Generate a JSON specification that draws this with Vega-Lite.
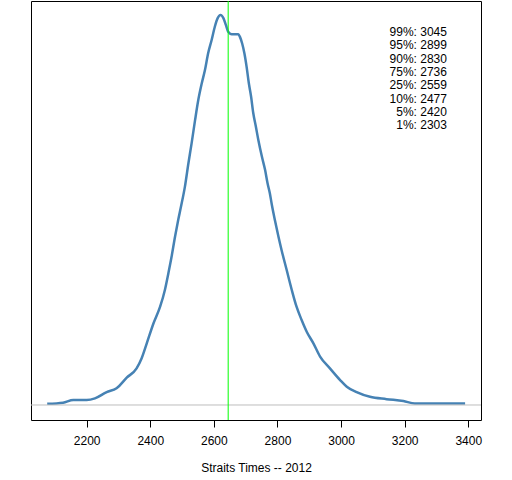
{
  "$schema": "https://vega.github.io/schema/vega-lite/v6.json",
  "description": "Density of Straits Times index values, 2012",
  "width": 450,
  "height": 419,
  "autosize": {"type": "none"},
  "padding": {"left": 31, "top": 1, "right": 31, "bottom": 60},
  "background": "white",
  "config": {
    "font": "Liberation Sans",
    "view": {"stroke": "black", "strokeWidth": 1}
  },
  "layer": [
    {
      "data": {
        "values": [
          {"x": 2076, "density": 0.003},
          {"x": 2126, "density": 0.006},
          {"x": 2158, "density": 0.013},
          {"x": 2200, "density": 0.013},
          {"x": 2226, "density": 0.017},
          {"x": 2263, "density": 0.033},
          {"x": 2294, "density": 0.043},
          {"x": 2326, "density": 0.070},
          {"x": 2357, "density": 0.094},
          {"x": 2373, "density": 0.120},
          {"x": 2389, "density": 0.158},
          {"x": 2410, "density": 0.209},
          {"x": 2431, "density": 0.252},
          {"x": 2446, "density": 0.295},
          {"x": 2457, "density": 0.338},
          {"x": 2467, "density": 0.380},
          {"x": 2478, "density": 0.432},
          {"x": 2488, "density": 0.475},
          {"x": 2497, "density": 0.510},
          {"x": 2509, "density": 0.560},
          {"x": 2520, "density": 0.620},
          {"x": 2530, "density": 0.671},
          {"x": 2541, "density": 0.731},
          {"x": 2551, "density": 0.782},
          {"x": 2562, "density": 0.825},
          {"x": 2572, "density": 0.859},
          {"x": 2582, "density": 0.902},
          {"x": 2593, "density": 0.936},
          {"x": 2603, "density": 0.970},
          {"x": 2612, "density": 0.992},
          {"x": 2621, "density": 1.000},
          {"x": 2630, "density": 0.992},
          {"x": 2638, "density": 0.974},
          {"x": 2645, "density": 0.957},
          {"x": 2656, "density": 0.951},
          {"x": 2677, "density": 0.951},
          {"x": 2682, "density": 0.944},
          {"x": 2689, "density": 0.927},
          {"x": 2696, "density": 0.902},
          {"x": 2703, "density": 0.867},
          {"x": 2710, "density": 0.825},
          {"x": 2717, "density": 0.791},
          {"x": 2724, "density": 0.748},
          {"x": 2732, "density": 0.714},
          {"x": 2740, "density": 0.679},
          {"x": 2751, "density": 0.637},
          {"x": 2761, "density": 0.603},
          {"x": 2769, "density": 0.568},
          {"x": 2776, "density": 0.543},
          {"x": 2782, "density": 0.515},
          {"x": 2792, "density": 0.474},
          {"x": 2803, "density": 0.432},
          {"x": 2813, "density": 0.397},
          {"x": 2829, "density": 0.346},
          {"x": 2845, "density": 0.295},
          {"x": 2860, "density": 0.252},
          {"x": 2876, "density": 0.218},
          {"x": 2892, "density": 0.188},
          {"x": 2913, "density": 0.158},
          {"x": 2934, "density": 0.124},
          {"x": 2965, "density": 0.094},
          {"x": 2997, "density": 0.064},
          {"x": 3018, "density": 0.047},
          {"x": 3049, "density": 0.033},
          {"x": 3091, "density": 0.021},
          {"x": 3143, "density": 0.015},
          {"x": 3196, "density": 0.010},
          {"x": 3232, "density": 0.004},
          {"x": 3390, "density": 0.004}
        ]
      },
      "mark": {"type": "line", "color": "#4682b4", "strokeWidth": 2.5, "interpolate": "monotone"},
      "encoding": {
        "x": {
          "field": "x",
          "type": "quantitative",
          "title": "Straits Times -- 2012",
          "scale": {"domain": [2025, 3440], "nice": false, "zero": false},
          "axis": {
            "values": [2200, 2400, 2600, 2800, 3000, 3200, 3400],
            "format": "d",
            "grid": false,
            "domain": false,
            "tickColor": "black",
            "tickSize": 7,
            "labelColor": "black",
            "labelFontSize": 12,
            "labelPadding": 8,
            "labelFlush": false,
            "titleColor": "black",
            "titleFontSize": 12,
            "titleFontWeight": "normal",
            "titlePadding": 16
          }
        },
        "y": {
          "field": "density",
          "type": "quantitative",
          "scale": {"domain": [-0.0385, 1.036], "nice": false, "zero": false},
          "axis": null
        }
      }
    },
    {
      "data": {"values": [{"level": 0}]},
      "mark": {"type": "rule", "color": "#bebebe", "strokeWidth": 1},
      "encoding": {"y": {"field": "level", "type": "quantitative"}}
    },
    {
      "data": {"values": [{"mean": 2645}]},
      "mark": {"type": "rule", "color": "#00ff00", "strokeWidth": 1},
      "encoding": {"x": {"field": "mean", "type": "quantitative"}}
    },
    {
      "data": {"values": [{"note": "quantiles"}]},
      "mark": {
        "type": "text",
        "align": "right",
        "baseline": "top",
        "fontSize": 12,
        "lineHeight": 13.3,
        "color": "black",
        "text": ["99%: 3045", "95%: 2899", "90%: 2830", "75%: 2736", "25%: 2559", "10%: 2477", "5%: 2420", "1%: 2303"]
      },
      "encoding": {"x": {"datum": 3333}, "y": {"datum": 0.969}}
    }
  ]
}
